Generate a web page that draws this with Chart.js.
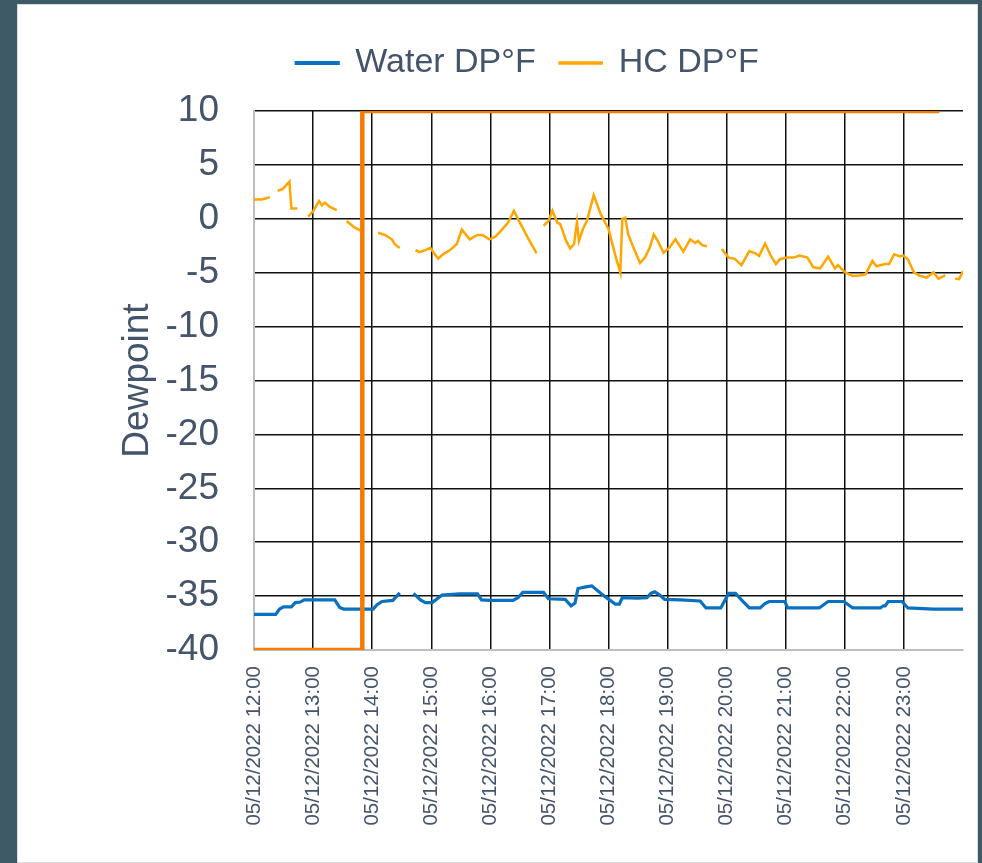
<!DOCTYPE html>
<html>
<head>
<meta charset="utf-8">
<script src="https://cdn.jsdelivr.net/npm/chart.js@4/dist/chart.umd.min.js"></script>
<style>
  html, body { margin: 0; padding: 0; background: #3d5a66; }
  body { width: 982px; height: 863px; position: relative; overflow: hidden; }
  .panel {
    position: absolute; left: 17px; top: 4px; width: 961px; height: 859px;
    background: #fff; box-shadow: inset 0 0 0 1px #d9d9d9;
  }
  canvas { display: block; }
</style>
</head>
<body>
<div class="panel"><canvas id="chart" width="961" height="859"></canvas></div>
<script>
// minutes after 05/12/2022 12:00; null value = gap in the logged data
const hcTimes = [0, 8, 16, 20, 24, 29, 36, 38, 44, 50, 55, 60, 66, 69, 72, 77, 84, 89,
  94, 102, 108, 117, 126, 133, 140, 143, 148, 156,
  164, 168, 174, 179, 187, 192, 199, 206, 211, 219, 223, 227, 232, 239, 245, 251, 258, 264, 270, 278, 287, 290,
  294, 299, 303, 308, 311, 317, 321, 325, 328, 330, 334, 338, 345, 352, 360, 364, 368, 372, 374, 377, 380,
  386, 392, 397, 402, 406, 410, 416, 422, 428, 436, 443, 448, 451, 455, 460, 467,
  475, 482, 488, 495, 503, 509, 513, 519, 525, 530, 534, 541, 548, 554, 562, 568, 575, 583, 590, 593, 600,
  608, 615, 621, 628, 632, 641, 645, 650, 656, 659, 664, 670, 676, 683, 690, 695, 702, 706,
  712, 716, 720];
const hcValues = [1.8, 1.8, 2.0, null, 2.6, 2.75, 3.45, 0.95, 0.95, null, 0.2, 0.7, 1.65, 1.25, 1.5, 1.1, 0.8, null,
  -0.2, -0.8, -1.1, null, -1.3, -1.5, -1.9, -2.35, -2.7, null,
  -2.9, -3.1, -2.9, -2.7, -3.7, -3.3, -2.9, -2.35, -1.0, -1.9, -1.7, -1.5, -1.5, -1.9, -1.65, -1.1, -0.35, 0.75, -0.35, -1.75, -3.2, null,
  -0.65, -0.2, 0.75, -0.35, -0.5, -2.05, -2.75, -2.35, -0.3, -2.05, -0.95, -0.2, 2.2, 0.45, -0.95, -2.35, -3.75, -5.0, 0.0, 0.1, -1.45,
  -2.8, -4.1, -3.6, -2.65, -1.45, -2.05, -3.15, -2.65, -1.9, -3.05, -1.9, -2.25, -2.05, -2.45, -2.55, null,
  -2.8, -3.6, -3.7, -4.3, -3.0, -3.2, -3.45, -2.3, -3.45, -4.2, -3.75, -3.6, -3.6, -3.4, -3.6, -4.5, -4.6, -3.5, -4.6, -4.3, -4.95,
  -5.3, -5.25, -5.15, -3.9, -4.4, -4.2, -4.2, -3.3, -3.5, -3.4, -3.75, -4.95, -5.3, -5.45, -4.95, -5.55, -5.25, null,
  -5.55, -5.6, -4.85];

const waterTimes = [0, 22, 26, 30, 38, 42, 47, 51, 82, 87, 91, 121, 125, 130, 141, 148, 155,
  162, 169, 174, 181, 191, 209, 227, 231, 239, 263, 268, 273, 294, 299, 316, 322, 326, 329, 337, 343,
  353, 361, 367, 371, 374, 389, 399, 403, 407, 412, 417, 433, 453, 459, 474, 482, 489, 495, 503, 514,
  519, 523, 539, 542, 574, 583, 599, 608, 636, 639, 641, 644, 658, 664, 690, 720];
const waterValues = [-36.7, -36.7, -36.2, -36.0, -36.0, -35.6, -35.55, -35.35, -35.35, -36.05, -36.2, -36.2, -35.8, -35.5, -35.4, -34.7, null,
  -34.75, -35.35, -35.6, -35.6, -34.9, -34.8, -34.8, -35.35, -35.4, -35.4, -35.15, -34.65, -34.65, -35.25, -35.3, -35.9, -35.65, -34.3, -34.15, -34.05,
  -34.8, -35.35, -35.75, -35.75, -35.15, -35.2, -35.15, -34.75, -34.6, -34.9, -35.3, -35.35, -35.45, -36.1, -36.1, -34.75, -34.75, -35.35, -36.1, -36.1,
  -35.7, -35.5, -35.5, -36.1, -36.1, -35.5, -35.5, -36.1, -36.1, -35.9, -35.9, -35.5, -35.5, -36.1, -36.2, -36.2];

// orange step marker
const limitTimes = [0, 110, 110, 696];
const limitValues = [-40, -40, 10, 10];

const xTickStep = 60;
const datePrefix = '05/12/2022 ';

const pairUp = (times, values) => times.map((t, i) => ({ x: t, y: values[i] }));
const textColor = '#44546a';
const fontFamily = '"Liberation Sans", Arial, sans-serif';

const legendGap = {
  id: 'legendGap',
  beforeInit(chart) {
    if (!chart.legend) return;
    const fit = chart.legend.fit;
    chart.legend.fit = function () {
      fit.call(this);
      this.height += 21;
    };
  }
};

new Chart(document.getElementById('chart'), {
  type: 'line',
  data: {
    datasets: [
      {
        label: 'Water DP°F',
        data: pairUp(waterTimes, waterValues),
        borderColor: '#0a70c0',
        backgroundColor: '#0a70c0',
        borderWidth: 3.2,
        pointRadius: 0,
        tension: 0
      },
      {
        label: 'HC DP°F',
        data: pairUp(hcTimes, hcValues),
        borderColor: '#ffa600',
        backgroundColor: '#ffa600',
        borderWidth: 2.5,
        pointRadius: 0,
        tension: 0
      },
      {
        label: 'limit',
        data: pairUp(limitTimes, limitValues),
        borderColor: '#f77a00',
        backgroundColor: '#f77a00',
        borderWidth: 4.5,
        borderJoinStyle: 'miter',
        pointRadius: 0,
        order: -1
      }
    ]
  },
  options: {
    responsive: false,
    animation: false,
    spanGaps: false,
    layout: { padding: { top: 18, left: 75, right: 15, bottom: 0 } },
    plugins: {
      tooltip: { enabled: false },
      legend: {
        position: 'top',
        labels: {
          color: textColor,
          font: { family: fontFamily, size: 34 },
          boxWidth: 42,
          boxHeight: 1,
          padding: 24,
          filter: (item) => item.text !== 'limit'
        }
      }
    },
    scales: {
      x: {
        type: 'linear',
        min: 0,
        max: 720,
        afterFit: (scale) => {
          scale.height = 213;
          scale.paddingLeft = 0;
          scale.paddingRight = 0;
        },
        border: { color: '#bfbfbf', width: 2 },
        grid: {
          drawTicks: false,
          lineWidth: 1.5,
          color: (ctx) => (ctx.tick && (ctx.tick.value === 0 || ctx.tick.value === 720)) ? 'rgba(0,0,0,0)' : '#111'
        },
        ticks: {
          stepSize: xTickStep,
          autoSkip: false,
          minRotation: 90,
          maxRotation: 90,
          padding: 16,
          color: textColor,
          font: { family: fontFamily, size: 20.5 },
          callback: (v) => {
            if (v >= 720) return '';
            const h = 12 + Math.floor(v / 60);
            return datePrefix + String(h).padStart(2, '0') + ':00';
          }
        }
      },
      y: {
        min: -40,
        max: 10,
        afterFit: (scale) => { scale.width = 162; },
        border: { color: '#bfbfbf', width: 2 },
        grid: {
          drawTicks: false,
          lineWidth: 1.5,
          color: (ctx) => (ctx.tick && ctx.tick.value === -40) ? 'rgba(0,0,0,0)' : '#111'
        },
        ticks: {
          stepSize: 5,
          padding: 35,
          color: textColor,
          font: { family: fontFamily, size: 37 }
        },
        title: {
          display: true,
          text: 'Dewpoint',
          color: textColor,
          font: { family: fontFamily, size: 37 },
          padding: { top: 24, bottom: 0 }
        }
      }
    }
  },
  plugins: [legendGap]
});
</script>
</body>
</html>
